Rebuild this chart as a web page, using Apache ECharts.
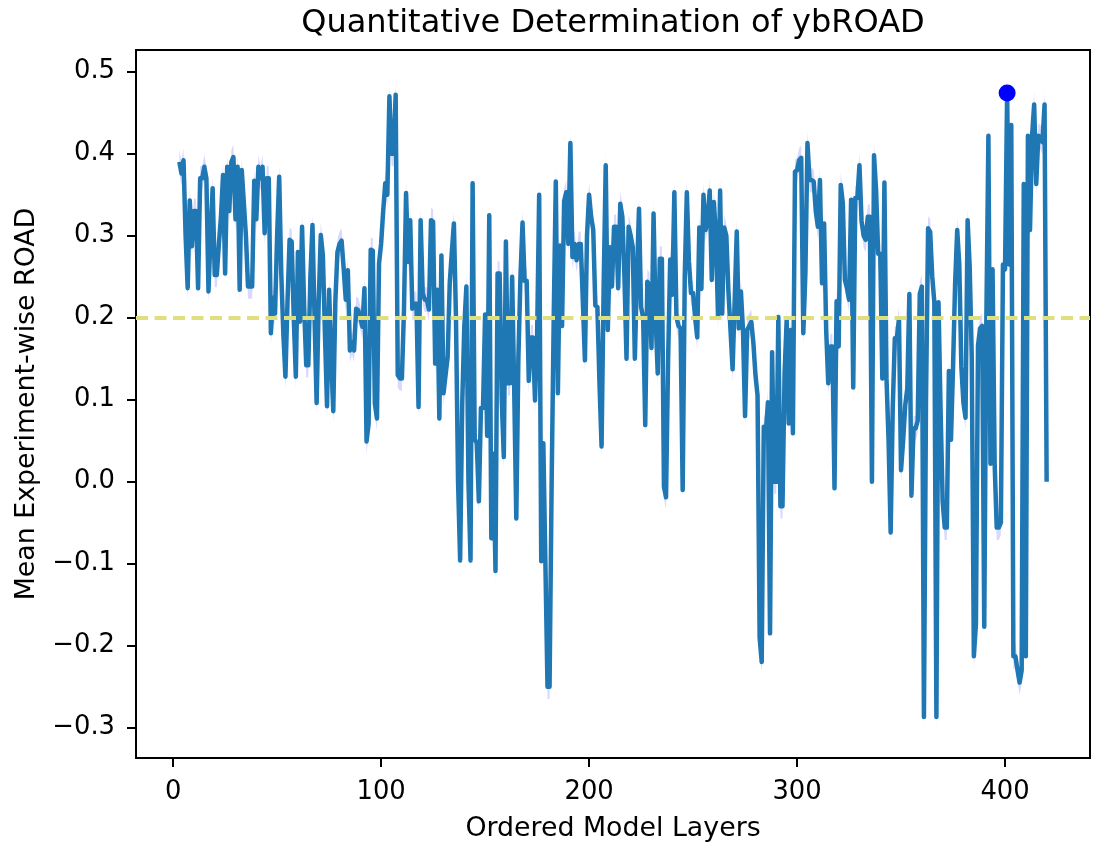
<!DOCTYPE html>
<html>
<head>
<meta charset="utf-8">
<script src="https://cdn.jsdelivr.net/npm/echarts@6/dist/echarts.min.js"></script>
<style>
  html, body { margin: 0; padding: 0; background: #ffffff; }
  #chart { width: 1095px; height: 843px; }
</style>
</head>
<body>
<div id="chart"></div>
<script>
// ---- data ----
const firstLayer = 3;
const roadValues = [
  0.39, 0.376, 0.392, 0.30, 0.236, 0.343, 0.287, 0.33, 0.33, 0.236,
  0.37, 0.37, 0.384, 0.37, 0.232, 0.30, 0.358, 0.252, 0.252, 0.29,
  0.323, 0.374, 0.254, 0.384, 0.33, 0.39, 0.396, 0.32, 0.384, 0.234,
  0.38, 0.34, 0.30, 0.238, 0.238, 0.238, 0.367, 0.32, 0.384, 0.37,
  0.384, 0.303, 0.37, 0.37, 0.181, 0.224, 0.205, 0.30, 0.372, 0.254,
  0.18, 0.128, 0.22, 0.295, 0.293, 0.20, 0.128, 0.28, 0.195, 0.311,
  0.213, 0.142, 0.142, 0.25, 0.313, 0.20, 0.096, 0.22, 0.301, 0.276,
  0.18, 0.092, 0.234, 0.15, 0.086, 0.22, 0.28, 0.29, 0.294, 0.26,
  0.222, 0.258, 0.16, 0.17, 0.16, 0.211, 0.209, 0.20, 0.189, 0.236,
  0.049, 0.071, 0.283, 0.282, 0.095, 0.077, 0.266, 0.29, 0.33, 0.364,
  0.35, 0.47, 0.40, 0.40, 0.472, 0.13, 0.126, 0.126, 0.21, 0.352,
  0.268, 0.319, 0.211, 0.217, 0.217, 0.091, 0.319, 0.23, 0.222, 0.222,
  0.21, 0.319, 0.317, 0.144, 0.234, 0.077, 0.276, 0.108, 0.13, 0.152,
  0.242, 0.28, 0.315, 0.20, 0.0, -0.096, 0.095, 0.189, 0.238, 0.0,
  -0.096, 0.364, 0.052, 0.047, -0.024, 0.09, 0.09, 0.204, 0.056, 0.325,
  -0.069, 0.034, -0.109, 0.254, 0.254, 0.10, 0.03, 0.293, 0.12, 0.12,
  0.25, 0.112, -0.045, 0.15, 0.25, 0.316, 0.245, 0.245, 0.123, 0.176,
  0.176, 0.099, 0.176, 0.35, -0.097, 0.047, -0.10, -0.25, -0.25, 0.0,
  0.20, 0.366, 0.108, 0.288, 0.19, 0.342, 0.353, 0.29, 0.413, 0.274,
  0.29, 0.27, 0.29, 0.29, 0.22, 0.148, 0.30, 0.35, 0.323, 0.307,
  0.215, 0.213, 0.12, 0.043, 0.238, 0.386, 0.185, 0.286, 0.238, 0.311,
  0.311, 0.236, 0.339, 0.323, 0.25, 0.15, 0.311, 0.30, 0.286, 0.15,
  0.25, 0.333, 0.213, 0.20, 0.069, 0.244, 0.24, 0.163, 0.327, 0.20,
  0.132, 0.272, 0.272, -0.006, -0.019, 0.15, 0.271, 0.228, 0.353, 0.201,
  0.19, 0.187, -0.01, 0.25, 0.353, 0.269, 0.23, 0.23, 0.20, 0.176,
  0.31, 0.235, 0.35, 0.307, 0.32, 0.355, 0.246, 0.341, 0.30, 0.201,
  0.355, 0.205, 0.31, 0.30, 0.232, 0.185, 0.137, 0.22, 0.305, 0.187,
  0.232, 0.185, 0.08, 0.185, 0.19, 0.195, 0.169, 0.13, 0.105, -0.19,
  -0.22, 0.067, 0.06, 0.097, -0.185, 0.158, 0.0, 0.0, 0.201, -0.03,
  -0.03, 0.132, 0.197, 0.071, 0.185, 0.059, 0.378, 0.38, 0.392, 0.395,
  0.181, 0.254, 0.413, 0.368, 0.368, 0.366, 0.33, 0.311, 0.368, 0.242,
  0.315, 0.185, 0.12, 0.165, 0.165, -0.008, 0.22, 0.165, 0.362, 0.34,
  0.246, 0.236, 0.222, 0.344, 0.115, 0.346, 0.346, 0.386, 0.318, 0.30,
  0.295, 0.323, 0.323, 0.0, 0.398, 0.356, 0.278, 0.278, 0.126, 0.365,
  0.126, 0.05, -0.062, 0.089, 0.175, 0.175, 0.199, 0.014, 0.05, 0.093,
  0.114, 0.229, -0.017, 0.065, 0.065, 0.074, 0.229, 0.238, -0.287, 0.1,
  0.309, 0.305, 0.25, 0.219, -0.287, 0.219, 0.088, -0.024, -0.056, -0.056,
  0.135, 0.051, 0.14, 0.242, 0.307, 0.265, 0.14, 0.096, 0.078, 0.319,
  0.262, 0.152, -0.213, -0.174, 0.166, 0.187, 0.19, -0.177, 0.193, 0.422,
  0.022, 0.259, 0.022, -0.056, -0.056, -0.05, 0.265, 0.259, 0.474, 0.265,
  0.435, -0.213, -0.213, -0.23, -0.245, -0.23, 0.363, -0.213, 0.422, 0.307,
  0.422, 0.46, 0.363, 0.422, 0.42, 0.414, 0.46, 0.0
];
const errorMargin = 0.015;          // half-width of the shaded band
const referenceLevel = 0.2045;      // dashed horizontal line
const xTicks = [0, 100, 200, 300, 400];
const yTicks = [-0.3, -0.2, -0.1, 0.0, 0.1, 0.2, 0.3, 0.4, 0.5];
const xRange = [-17.85, 440.85];
const yRange = [-0.337, 0.5265];
const titleText = 'Quantitative Determination of ybROAD';
const xTitle = 'Ordered Model Layers';
const yTitle = 'Mean Experiment-wise ROAD';

// ---- build series data ----
const layers = roadValues.map((v, i) => firstLayer + i);
const lineData = roadValues.map((v, i) => [layers[i], v]);
let maxIdx = 0;
roadValues.forEach((v, i) => { if (v > roadValues[maxIdx]) maxIdx = i; });
const maxPoint = [[layers[maxIdx], roadValues[maxIdx]]];

const FONT = 'DejaVu Sans';
const chart = echarts.init(document.getElementById('chart'), null, { renderer: 'canvas' });

function renderBand(params, api) {
  const pts = [];
  for (let i = 0; i < roadValues.length; i++) {
    pts.push(api.coord([layers[i], roadValues[i] + errorMargin]));
  }
  for (let i = roadValues.length - 1; i >= 0; i--) {
    pts.push(api.coord([layers[i], roadValues[i] - errorMargin]));
  }
  return {
    type: 'polygon',
    shape: { points: pts },
    style: { fill: 'rgba(0,0,255,0.15)', stroke: 'none' }
  };
}

chart.setOption({
  animation: false,
  backgroundColor: '#ffffff',
  graphic: [{
    type: 'text',
    x: 613, y: 24,
    style: {
      text: titleText,
      fill: '#000',
      font: '32px "DejaVu Sans"',
      align: 'center', verticalAlign: 'middle',
      textAlign: 'center', textVerticalAlign: 'middle'
    }
  }],
  grid: {
    left: 136, right: 5, top: 50, bottom: 85,
    show: true, borderColor: '#000', borderWidth: 2,
    backgroundColor: 'transparent',
    containLabel: false,
    outerBoundsMode: 'none'
  },
  xAxis: {
    type: 'value',
    min: xRange[0], max: xRange[1],
    name: xTitle, nameLocation: 'middle', nameGap: 58,
    nameTextStyle: { fontFamily: FONT, fontSize: 26.8, color: '#000' },
    axisLine: { show: true, onZero: false, lineStyle: { color: '#000', width: 2 } },
    axisTick: { show: true, inside: false, length: 9, customValues: xTicks, lineStyle: { color: '#000', width: 2 } },
    axisLabel: { show: true, customValues: xTicks, fontFamily: FONT, fontSize: 25.8, color: '#000', margin: 21 },
    splitLine: { show: false }
  },
  yAxis: {
    type: 'value',
    min: yRange[0], max: yRange[1],
    name: yTitle, nameLocation: 'middle', nameGap: 95,
    nameTextStyle: { fontFamily: FONT, fontSize: 26.8, color: '#000' },
    axisLine: { show: true, onZero: false, lineStyle: { color: '#000', width: 2 } },
    axisTick: { show: true, inside: false, length: 9, customValues: yTicks, lineStyle: { color: '#000', width: 2 } },
    axisLabel: {
      show: true, customValues: yTicks, fontFamily: FONT, fontSize: 25.8, color: '#000', margin: 21,
      formatter: (v) => (v < 0 ? '\u2212' : '') + Math.abs(v).toFixed(1)
    },
    splitLine: { show: false }
  },
  series: [
    {
      name: 'reference', type: 'line', data: [], silent: true, z: 1,
      markLine: {
        silent: true, symbol: ['none', 'none'], animation: false,
        label: { show: false },
        lineStyle: { color: '#dfdf80', type: [12, 6.5], width: 4 },
        data: [{ yAxis: referenceLevel }]
      }
    },
    {
      name: 'band', type: 'custom', silent: true, z: 2, clip: true,
      data: [lineData[0]],
      encode: { x: 0, y: 1 },
      renderItem: renderBand
    },
    {
      name: 'road', type: 'line', data: lineData,
      symbol: 'none', z: 3,
      lineStyle: { color: '#1f77b4', width: 4.5, join: 'round' }
    },
    {
      name: 'max', type: 'scatter', data: maxPoint, z: 4,
      symbol: 'circle', symbolSize: 17,
      itemStyle: { color: '#0000ff', opacity: 1 }
    }
  ]
});
</script>
</body>
</html>
